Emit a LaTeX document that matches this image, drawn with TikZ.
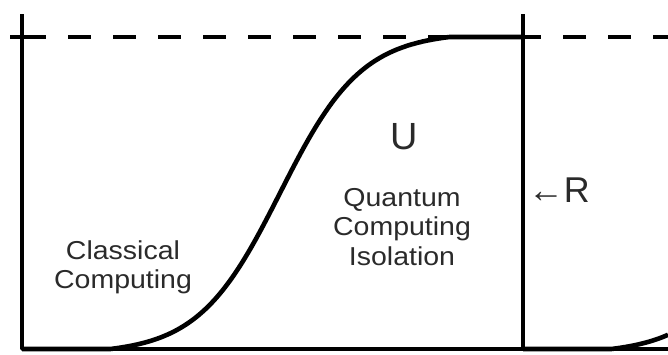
\documentclass[tikz,border=0pt]{standalone}
\usepackage{fontspec}
\setmainfont{Liberation Sans}
\newfontfamily\widefont[FakeStretch=1.1]{Liberation Sans}
\definecolor{labelgray}{HTML}{2A2A2A}

\begin{document}
\begin{tikzpicture}[
  x=1bp,
  y=-1bp,
  line join=round,
  frame/.style={line width=3.4bp},
  sshape/.style={line width=4.6bp},
  limit/.style={line width=3.2bp, dash pattern=on 23bp off 22bp},
  label/.style={text=labelgray, inner sep=0pt, align=center}
]
  \def\xm{280}
  \def\s{41}
  \def\per{501}
  % Logistik, auf [110,450] normiert
  \def\La{0.01567}
  \def\Lb{0.98413}

  \useasboundingbox (0,0) rectangle (668,354);

  \coordinate (TL) at (22,14);
  \coordinate (BL) at (22,349);
  \coordinate (TR) at (523,14);
  \coordinate (BR) at (523,349);
  \coordinate (E)  at (668,349);

  % Grenzlinie oben
  \draw[frame] (10,37) -- (23,37);
  \draw[limit] (23,37) -- (668,37);

  % Achsen
  \draw[frame] (TL) -- (BL) -- (E);
  \draw[frame] (TR) -- (BR);

  % S-Kurve
  \draw[sshape] (BL) -- (110,349)
    -- plot[domain=110:450, samples=150]
    (\x, {349-312*((1/(1+exp(-(\x-\xm)/\s)))-\La)/(\Lb-\La)})
    -- (523,37);

  % naechste Kurve rechts
  \draw[sshape] (BR) -- (611,349)
    -- plot[domain=611:668, samples=40]
    (\x, {349-312*((1/(1+exp(-(\x-\xm-\per)/\s)))-\La)/(\Lb-\La)});

  % Beschriftung
  \node[label, font=\fontsize{38}{40}\selectfont] (u) at (404,137) {U};
  \node[label, font=\widefont\fontsize{26}{30}\selectfont] (qc) at (402,227)
    {Quantum\\Computing\\Isolation};
  \node[label, font=\widefont\fontsize{26}{29}\selectfont] (cc) at (123,267)
    {Classical\\Computing};
  \node[label, font=\fontsize{36}{40}\selectfont] (r) at (559,190) {←R};
\end{tikzpicture}
\end{document}
